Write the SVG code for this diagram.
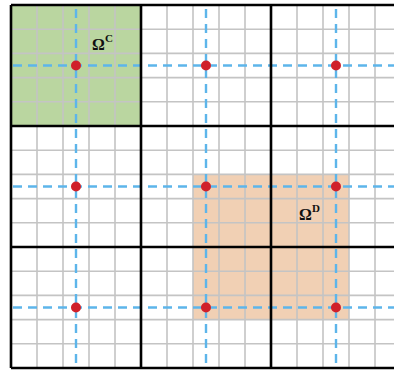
<svg xmlns="http://www.w3.org/2000/svg" width="394" height="371" viewBox="0 0 394 371">
<style>
.thin{stroke:#c4c4c4;stroke-width:1.6;fill:none}
.thick{stroke:#000;stroke-width:2.6;fill:none}
.dash{stroke:#5db5ea;stroke-width:2.4;stroke-dasharray:9 6;fill:none}
.dot{fill:#d0202a}
.lbl{font-family:"Liberation Serif",serif;font-weight:bold;font-size:16px;fill:#111}
.sup{font-family:"Liberation Serif",serif;font-weight:bold;font-size:11px;fill:#111}
</style>
<rect width="394" height="371" fill="#fff"/>
<g id="omegaC-region"><rect x="11" y="5" width="130" height="121" fill="#bad6a0"/></g>
<g id="omegaD-region"><rect x="193" y="174.4" width="156" height="145.2" fill="#f1d0b4"/></g>
<g id="grid-thin">
<path class="thin" d="M37 5V368M63 5V368M89 5V368M115 5V368M167 5V368M193 5V368M219 5V368M245 5V368M297 5V368M323 5V368M349 5V368M375 5V368"/>
<path class="thin" d="M11 29.2H394M11 53.4H394M11 77.6H394M11 101.8H394M11 150.2H394M11 174.4H394M11 198.6H394M11 222.8H394M11 271.2H394M11 295.4H394M11 319.6H394M11 343.8H394"/>
</g>
<g id="connectors">
<path class="dash" d="M76 9V368M206 9V368M336 9V368"/>
<path class="dash" d="M13 65.5H394M13 186.5H394M13 307.5H394"/>
</g>
<g id="grid-thick">
<path class="thick" d="M11 5H394M11 126H394M11 247H394M11 368H394M11 5V368M141 5V368M271 5V368"/>
</g>
<g id="nodes">
<circle class="dot" cx="76" cy="65.5" r="5"/>
<circle class="dot" cx="206" cy="65.5" r="5"/>
<circle class="dot" cx="336" cy="65.5" r="5"/>
<circle class="dot" cx="76" cy="186.5" r="5"/>
<circle class="dot" cx="206" cy="186.5" r="5"/>
<circle class="dot" cx="336" cy="186.5" r="5"/>
<circle class="dot" cx="76" cy="307.5" r="5"/>
<circle class="dot" cx="206" cy="307.5" r="5"/>
<circle class="dot" cx="336" cy="307.5" r="5"/>
</g>
<g id="label-C"><text class="lbl" x="92" y="50">Ω</text><text class="sup" x="105" y="42">C</text></g>
<g id="label-D"><text class="lbl" x="299" y="220">Ω</text><text class="sup" x="312" y="212">D</text></g>
</svg>
